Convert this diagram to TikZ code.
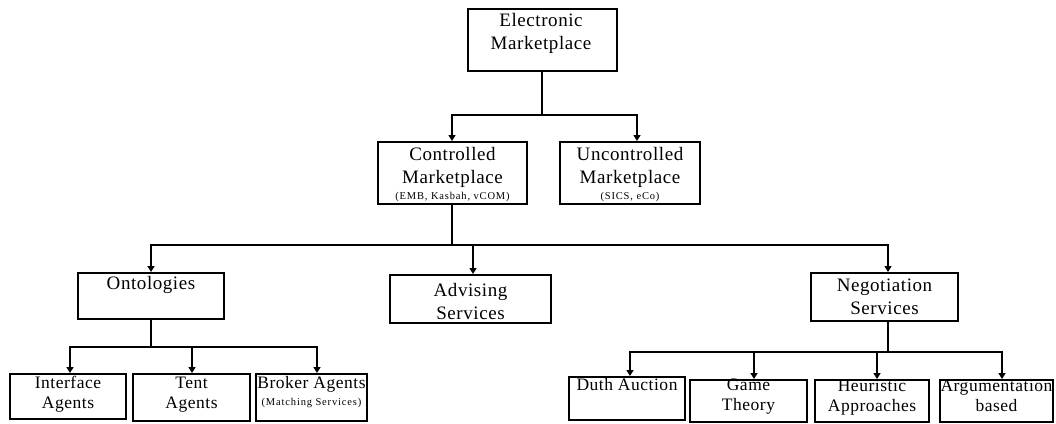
\documentclass[tikz,border=0pt]{standalone}
\usepackage{fontspec}
\setmainfont{Liberation Serif}[LetterSpace=3]
\usetikzlibrary{arrows.meta}

\begin{document}
\begin{tikzpicture}[x=1pt,y=-1pt,
  box/.style={draw, line width=2pt, rectangle, inner sep=0pt},
  big/.style={font=\fontsize{19}{23}\selectfont, align=center, inner sep=0pt},
  mid/.style={font=\fontsize{17.5}{20}\selectfont, align=center, inner sep=0pt},
  tiny/.style={font=\fontsize{10.5}{12}\addfontfeatures{LetterSpace=8}\selectfont, align=center, inner sep=0pt},
  wire/.style={line width=2pt},
  arr/.style={wire, -{Triangle[length=6pt,width=7pt]}}
]
\useasboundingbox (0,0) rectangle (1056,423);

% boxes
\node[box, minimum width=149pt, minimum height=62pt] (em)   at (542,40)  {};
\node[box, minimum width=149pt, minimum height=62pt] (cm)   at (452,173) {};
\node[box, minimum width=140pt, minimum height=62pt] (um)   at (630,173)   {};
\node[box, minimum width=146pt, minimum height=46pt] (onto) at (151,296)   {};
\node[box, minimum width=161pt, minimum height=48pt] (adv)  at (470.5,299) {};
\node[box, minimum width=147pt, minimum height=48pt] (neg)  at (884.5,297) {};
\node[box, minimum width=116pt, minimum height=45pt] (ia)   at (68,396.5)  {};
\node[box, minimum width=117pt, minimum height=47pt] (ta)   at (191.5,397.5) {};
\node[box, minimum width=111pt, minimum height=47pt] (ba)   at (311.5,397.5) {};
\node[box, minimum width=116pt, minimum height=43pt] (da)   at (627,398.5) {};
\node[box, minimum width=117pt, minimum height=42pt] (gt)   at (748.5,401) {};
\node[box, minimum width=114pt, minimum height=42pt] (ha)   at (872,401)   {};
\node[box, minimum width=113pt, minimum height=42pt] (ab)   at (996.5,401) {};

% labels
\node[big] (emt)  at (541,33.5)  {Electronic\\Marketplace};
\node[big] (cmt)  at (452.5,167.5) {Controlled\\Marketplace};
\node[tiny] (cms) at (452.5,197) {(EMB, Kasbah, vCOM)};
\node[big] (umt)  at (630,167.5) {Uncontrolled\\Marketplace};
\node[tiny] (ums) at (630,197) {(SICS, eCo)};
\node[big] (ontot) at (151,285) {Ontologies};
\node[big] (advt) at (470.5,301) {Advising\\Services};
\node[big] (negt) at (884.5,297) {Negotiation\\Services};
\node[mid] (iat)  at (68,394.5)  {Interface\\Agents};
\node[mid] (tat)  at (191.5,394.5) {Tent\\Agents};
\node[mid] (bat)  at (311.5,384) {Broker Agents};
\node[tiny] (bas) at (311.5,403) {(Matching Services)};
\node[mid] (dat)  at (627,385)   {Duth Auction};
\node[mid] (gtt)  at (748.5,397) {Game\\Theory};
\node[mid] (hat)  at (872,397.5) {Heuristic\\Approaches};
\node[mid] (abt)  at (996.5,396) {Argumentation\\based};

% junction points
\coordinate (j1) at (em.south |- 0,115);
\coordinate (j2) at (cm.south |- 0,245);
\coordinate (j3) at (onto.south |- 0,347);
\coordinate (j4) at ([xshift=3.5pt]neg.south |- 0,352);

% connectors
\draw[wire] (em.south) -- (j1);
\draw[arr] (j1) -| (cm.north);
\draw[arr] (j1) -| ([xshift=7pt]um.north);

\draw[wire] (cm.south) -- (j2);
\draw[arr] (j2) -| (onto.north);
\draw[arr] (j2) -| ([xshift=2.5pt]adv.north);
\draw[arr] (j2) -| ([xshift=3.5pt]neg.north);

\draw[wire] ([xshift=3.5pt]neg.south) -- (j4);
\draw[wire] (onto.south) -- (j3);
\draw[arr] (j3) -| ([xshift=2pt]ia.north);
\draw[arr] (j3) -| ([xshift=0.5pt]ta.north);
\draw[arr] (j3) -| ([xshift=5.5pt]ba.north);

\draw[arr] (j4) -| ([xshift=3pt]da.north);
\draw[arr] (j4) -| ([xshift=5.5pt]gt.north);
\draw[arr] (j4) -| ([xshift=5pt]ha.north);
\draw[arr] (j4) -| ([xshift=5.5pt]ab.north);
\end{tikzpicture}
\end{document}
